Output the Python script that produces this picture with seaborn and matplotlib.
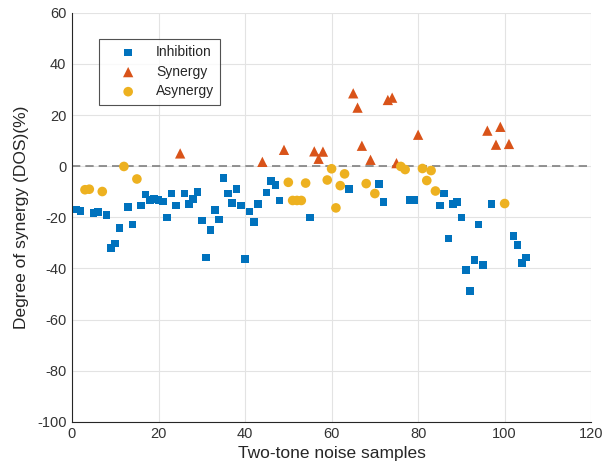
import matplotlib
matplotlib.use('Agg')
import matplotlib.pyplot as plt
import pandas as pd
import seaborn as sns

# Sample indices and degree of synergy (%)
inhibition_x = [1, 2, 5, 6, 8, 9, 10, 11, 13, 14, 16, 17, 18, 19, 20, 21, 22, 23, 24,
                26, 27, 28, 29, 30, 31, 32, 33, 34, 35, 36, 37, 38, 39, 40, 41, 42, 43,
                45, 46, 47, 48, 55, 64, 71, 72, 78, 79,
                85, 86, 87, 88, 89, 90, 91, 92, 93, 94, 95, 97, 102, 103, 104, 105]
inhibition_y = [-16.9, -17.6, -18.3, -18.0, -19.2, -32.1, -30.3, -24.2, -15.9, -22.8,
                -15.3, -11.1, -13.3, -12.9, -13.1, -13.8, -20.1, -10.7, -15.3,
                -10.7, -14.9, -12.9, -10.2, -21.3, -35.7, -25.0, -17.2, -20.8, -4.7,
                -10.7, -14.4, -8.9, -15.3, -36.2, -17.7, -21.9, -14.7,
                -10.3, -5.9, -7.4, -13.4, -20.1, -8.9, -7.0, -14.0, -13.1, -13.1,
                -15.3, -10.7, -28.3, -14.9, -14.0, -20.1, -40.5, -48.9, -36.6, -22.8,
                -38.7, -14.9, -27.4, -30.8, -37.8, -35.7]

synergy_x = [25, 44, 49, 56, 57, 58, 65, 66, 67, 69, 73, 74, 75, 80, 96, 98, 99, 101]
synergy_y = [5.0, 1.7, 6.4, 5.8, 2.9, 5.7, 28.5, 22.9, 8.0, 2.5, 25.9, 26.8, 1.2,
             12.3, 13.9, 8.4, 15.4, 8.7]

asynergy_x = [3, 4, 7, 12, 15, 50, 51, 52, 53, 54, 59, 60, 61, 62, 63, 68, 70,
              76, 77, 81, 82, 83, 84, 100]
asynergy_y = [-9.2, -9.0, -9.9, -0.1, -5.0, -6.3, -13.4, -13.4, -13.4, -6.6,
              -5.4, -1.0, -16.3, -7.6, -3.0, -6.8, -10.7, -0.1, -1.3, -0.9,
              -5.6, -1.7, -9.7, -14.6]

df = pd.concat([
    pd.DataFrame({'sample': inhibition_x, 'dos': inhibition_y, 'type': 'Inhibition'}),
    pd.DataFrame({'sample': synergy_x, 'dos': synergy_y, 'type': 'Synergy'}),
    pd.DataFrame({'sample': asynergy_x, 'dos': asynergy_y, 'type': 'Asynergy'}),
], ignore_index=True)

sns.set_style('white')
plt.rcParams['font.family'] = ['Liberation Sans', 'DejaVu Sans']
plt.rcParams['axes.unicode_minus'] = False

colors = {'Inhibition': '#0072BD', 'Synergy': '#D95319', 'Asynergy': '#EDB120'}
markers = {'Inhibition': 's', 'Synergy': '^', 'Asynergy': 'o'}
sizes = {'Inhibition': 30, 'Synergy': 55, 'Asynergy': 48}

fig = plt.figure(figsize=(6.03, 4.73), dpi=100)
ax = fig.add_axes([0.1194, 0.108, 0.861, 0.865])

# dashed zero line
ax.axhline(0, color='#808080', linestyle=(0, (5, 3)), linewidth=1.2, zorder=1)

for name in ['Inhibition', 'Synergy', 'Asynergy']:
    sns.scatterplot(data=df[df['type'] == name], x='sample', y='dos',
                    marker=markers[name], color=colors[name], s=sizes[name],
                    edgecolor='none', label=name, ax=ax, zorder=3)

ax.set_xlim(0, 120)
ax.set_ylim(-100, 60)
ax.set_xticks(range(0, 121, 20))
ax.set_yticks(range(-100, 61, 20))
ax.grid(True, color='#e3e3e3', linewidth=0.8)
ax.set_axisbelow(True)

for side in ['top', 'right']:
    ax.spines[side].set_visible(False)
for side in ['left', 'bottom']:
    ax.spines[side].set_color('#262626')
    ax.spines[side].set_linewidth(0.8)
ax.tick_params(direction='in', length=4, width=0.8, color='#262626',
               labelsize=10.5, labelcolor='#333333', pad=4)

ax.set_xlabel('Two-tone noise samples', fontsize=12.5, color='#262626', labelpad=3)
ax.set_ylabel('Degree of synergy (DOS)(%)', fontsize=12.5, color='#262626', labelpad=6)

leg = ax.legend(loc='upper left', bbox_to_anchor=(0.052, 0.936), fontsize=10,
                frameon=True, fancybox=False, edgecolor='#262626',
                handletextpad=0.35, borderpad=0.45, labelspacing=0.4,
                handlelength=3.3, borderaxespad=0)
leg.get_frame().set_linewidth(0.8)

fig.savefig('out.png', dpi=100)
